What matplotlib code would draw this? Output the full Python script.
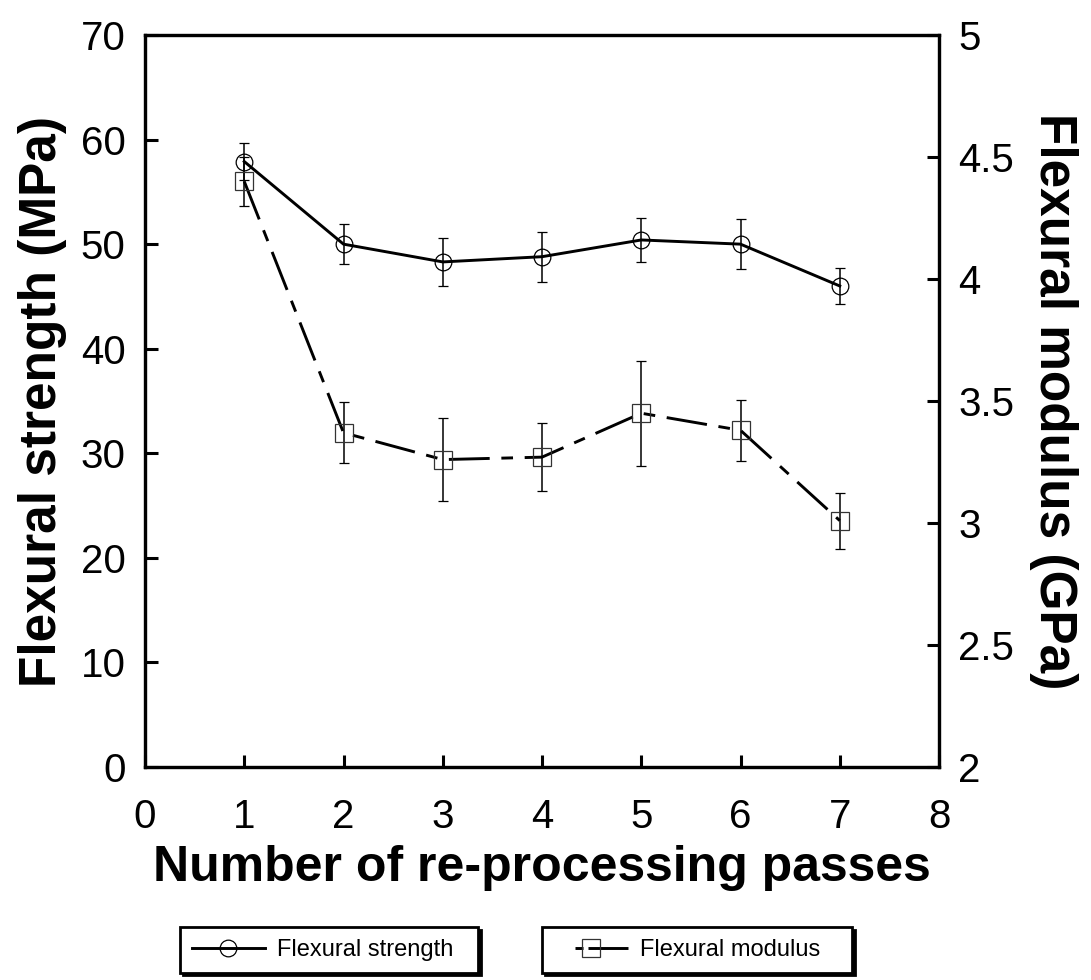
import matplotlib
matplotlib.use('Agg')
import matplotlib.pyplot as plt
from matplotlib.lines import Line2D

plt.rcParams['font.family'] = ['Liberation Sans', 'DejaVu Sans']

# values
passes = [1, 2, 3, 4, 5, 6, 7]
strength = [57.9, 50.0, 48.3, 48.8, 50.4, 50.0, 46.0]
strength_err = [1.8, 1.9, 2.3, 2.4, 2.1, 2.4, 1.7]
modulus = [4.40, 3.37, 3.26, 3.27, 3.45, 3.38, 3.01]
modulus_err = [0.10, 0.125, 0.17, 0.14, 0.215, 0.125, 0.115]

x_ticks = [0, 1, 2, 3, 4, 5, 6, 7, 8]
left_ticks = [0, 10, 20, 30, 40, 50, 60, 70]
right_ticks = [2, 2.5, 3, 3.5, 4, 4.5, 5]

fig = plt.figure(figsize=(10.91, 9.8), dpi=100)
ax = fig.add_axes([0.1329, 0.2173, 0.7278, 0.747])
ax2 = ax.twinx()

lw = 2.1
dashdot = (0, (14.0, 4.0, 4.0, 4.0))

ax.errorbar(passes, strength, yerr=strength_err, color='black', lw=lw,
            marker='o', ms=12, mfc='none', mec='black', mew=0.9,
            ecolor='black', elinewidth=1.1, capsize=3.8, capthick=1.1, zorder=3)
ax2.errorbar(passes, modulus, yerr=modulus_err, color='black', lw=lw,
             ls=dashdot, marker='s', ms=12.5, mfc='none', mec='#333333', mew=0.9,
             ecolor='black', elinewidth=1.1, capsize=3.8, capthick=1.1, zorder=3)

ax.set_xlim(0, 8)
ax.set_ylim(0, 70)
ax2.set_ylim(2, 5)
ax.set_xticks(x_ticks)
ax.set_yticks(left_ticks)
ax2.set_yticks(right_ticks)
ax2.set_yticklabels(['%g' % t for t in right_ticks])

for a in (ax, ax2):
    for s in a.spines.values():
        s.set_linewidth(2.3)
ax.tick_params(axis='both', direction='in', length=9, width=2.2, labelsize=29)
ax.tick_params(axis='x', pad=22)
ax.tick_params(axis='y', pad=14)
ax2.tick_params(axis='y', direction='in', length=9, width=2.2, labelsize=29, pad=14)

ax.set_xlabel('Number of re-processing passes', fontsize=36, fontweight='bold', labelpad=7)
ax.set_ylabel('Flexural strength (MPa)', fontsize=37, fontweight='bold', labelpad=10)
ax2.set_ylabel('Flexural modulus (GPa)', fontsize=37, fontweight='bold',
               rotation=270, labelpad=46)

# two separate boxed legends below the plot
h1 = Line2D([], [], color='black', lw=lw, marker='o', ms=12, mfc='none', mew=0.9)
h2 = Line2D([], [], color='black', lw=lw, ls=(34.45, (2.75, 1.7, 30, 7.2)), marker='s',
            ms=12.5, mfc='none', mec='#333333', mew=0.9)
specs = [(h1, 'Flexural strength  ', 180, 3.1), (h2, 'Flexural modulus   ', 542, 3.15)]
for h, lab, x0, hl in specs:
    leg = fig.legend(handles=[h], labels=[lab], loc='upper left',
                     bbox_to_anchor=(x0 / 1091, 1 - 927 / 980), fontsize=17,
                     frameon=True, fancybox=False, shadow={'color': 'black', 'alpha': 1},
                     handlelength=hl, handletextpad=0.5, borderpad=0.5, borderaxespad=0)
    leg.get_frame().set_edgecolor('black')
    leg.get_frame().set_linewidth(2.0)
    leg.get_frame().set_alpha(1)

fig.savefig('out.png', dpi=100)
